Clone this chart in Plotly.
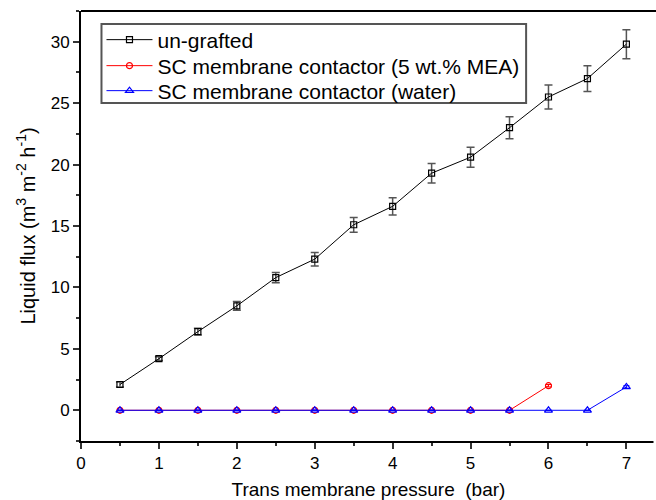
import plotly.graph_objects as go

pressure = [0.5, 1, 1.5, 2, 2.5, 3, 3.5, 4, 4.5, 5, 5.5, 6, 6.5, 7]
ungrafted = [2.1, 4.2, 6.4, 8.5, 10.8, 12.3, 15.1, 16.6, 19.3, 20.6, 23.0, 25.5, 27.0, 29.8]
ungrafted_err = [0.2, 0.15, 0.27, 0.35, 0.42, 0.55, 0.6, 0.7, 0.79, 0.81, 0.9, 0.98, 1.05, 1.18]

pressure_mea = [0.5, 1, 1.5, 2, 2.5, 3, 3.5, 4, 4.5, 5, 5.5, 6]
flux_mea = [0, 0, 0, 0, 0, 0, 0, 0, 0, 0, 0, 2.0]
err_mea = [0, 0, 0, 0, 0, 0, 0, 0, 0, 0, 0, 0.1]

pressure_water = [0.5, 1, 1.5, 2, 2.5, 3, 3.5, 4, 4.5, 5, 5.5, 6, 6.5, 7]
flux_water = [0, 0, 0, 0, 0, 0, 0, 0, 0, 0, 0, 0, 0, 1.9]
err_water = [0, 0, 0, 0, 0, 0, 0, 0, 0, 0, 0, 0, 0, 0.1]

FONT = "Liberation Sans, Arial, sans-serif"

W, H = 656, 500
ML, MR, MT, MB = 80.5, 0, 11, 59
PW, PH = W - ML - MR, H - MT - MB


def px_x(p):
    return (p - ML) / PW


def px_y(p):
    return (H - MB - p) / PH


fig = go.Figure()
fig.add_trace(go.Scatter(
    x=pressure, y=ungrafted, name="un-grafted", mode="lines+markers", legend="legend",
    line=dict(color="black", width=1),
    marker=dict(symbol="square-open", size=6, color="black", line=dict(width=1.2)),
    error_y=dict(type="data", array=ungrafted_err, color="#555555", thickness=1.5, width=4),
))
fig.add_trace(go.Scatter(
    x=pressure_mea, y=flux_mea, name="SC membrane contactor (5 wt.% MEA)", mode="lines+markers",
    legend="legend2",
    line=dict(color="red", width=1),
    marker=dict(symbol="circle-open", size=6, color="red", line=dict(width=1.2)),
    error_y=dict(type="data", array=err_mea, color="red", thickness=1, width=3),
))
fig.add_trace(go.Scatter(
    x=pressure_water, y=flux_water, name="SC membrane contactor (water)", mode="lines+markers",
    legend="legend3",
    line=dict(color="blue", width=1),
    marker=dict(symbol="triangle-up-open", size=7, color="blue", line=dict(width=1.2)),
    error_y=dict(type="data", array=err_water, color="blue", thickness=1, width=3),
))

# mask the right edge (the reference frame is open on the right)
fig.add_shape(type="line", xref="paper", yref="paper", layer="above",
              x0=1, x1=1, y0=-0.01, y1=1.01, line=dict(color="white", width=5))
# top frame line
fig.add_shape(type="line", xref="paper", yref="paper", layer="above",
              x0=0, x1=1, y0=1, y1=1, line=dict(color="black", width=2))
# legend frame
fig.add_shape(type="rect", xref="paper", yref="paper", layer="above",
              x0=px_x(101), x1=px_x(526), y0=px_y(103), y1=px_y(24),
              fillcolor="white", line=dict(color="#555555", width=2))


def leg(ypix):
    return dict(x=px_x(101), y=px_y(ypix), xanchor="left", yanchor="middle",
                bgcolor="rgba(0,0,0,0)", borderwidth=0,
                font=dict(size=21, family=FONT), itemwidth=46)


fig.update_layout(
    template="none",
    width=W, height=H,
    margin=dict(l=ML, r=MR, t=MT, b=MB, pad=0),
    paper_bgcolor="white", plot_bgcolor="white",
    font=dict(family=FONT, color="black"),
    showlegend=True,
    legend=leg(40), legend2=leg(66), legend3=leg(91),
    xaxis=dict(
        range=[0, 7.38], tickvals=[0, 1, 2, 3, 4, 5, 6, 7],
        showgrid=False, zeroline=False,
        showline=True, linecolor="black", linewidth=2, mirror=False,
        ticks="outside", ticklen=6, tickwidth=1.5, tickcolor="#333",
        minor=dict(ticks="outside", ticklen=3, dtick=0.5, tick0=0, tickcolor="#333", showgrid=False),
        tickfont=dict(size=17),
        title=dict(text="Trans membrane pressure  (bar)", font=dict(size=19), standoff=10),
    ),
    yaxis=dict(
        range=[-2.5, 32.5], tickvals=[0, 5, 10, 15, 20, 25, 30],
        showgrid=False, zeroline=False,
        showline=True, linecolor="black", linewidth=2, mirror=False,
        ticks="outside", ticklen=6, tickwidth=1.5, tickcolor="#333",
        minor=dict(ticks="outside", ticklen=3, dtick=2.5, tick0=0, tickcolor="#333", showgrid=False),
        tickfont=dict(size=17),
        title=dict(text="Liquid flux (m<sup>3</sup> m<sup>-2</sup> h<sup>-1</sup>)", font=dict(size=20), standoff=10),
    ),
)

fig.write_html("out.html")
